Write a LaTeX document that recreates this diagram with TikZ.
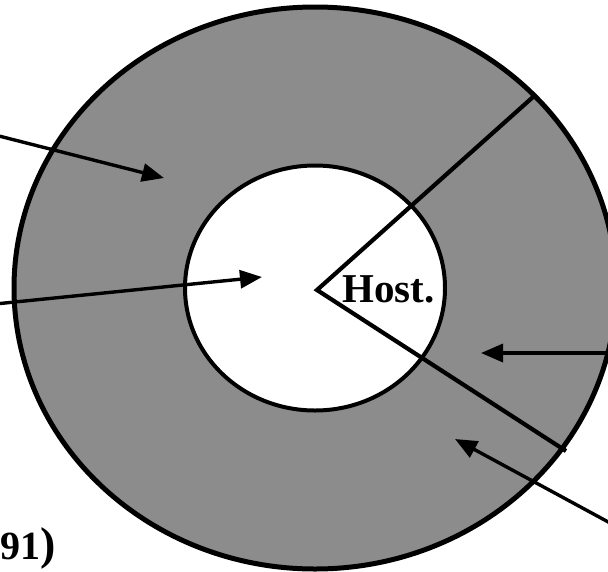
\documentclass[tikz,border=0pt]{standalone}
\usepackage{fontspec}
\setmainfont{Liberation Serif}
\usetikzlibrary{arrows.meta}
\definecolor{ringgray}{RGB}{140,140,140}
\tikzset{
  ring/.style={draw=black, line width=5pt},
  hole/.style={draw=black, line width=4pt, fill=white},
  divider/.style={draw=black, line width=4.2pt},
  pointer/.style={draw=black, line width=3.4pt, -{Triangle[length=22pt,width=18pt]}},
}
\begin{document}
\begin{tikzpicture}[x=1pt,y=-1pt]
\useasboundingbox (0,0) rectangle (608,571);
\clip (0,0) rectangle (608,571);
\coordinate (c) at (315,288);
\coordinate (v) at (317,290);
\fill[ringgray] (c) ellipse [x radius=301pt, y radius=281pt];
\draw[ring] (c) ellipse [x radius=301pt, y radius=281pt];
\draw[hole] (c) ellipse [x radius=130pt, y radius=122.5pt];
\coordinate (d1) at (533,97);
\coordinate (d2) at (566,451);
\draw[divider, line join=miter] (d1) -- (v) -- (d2);
\node[font=\bfseries\fontsize{41}{41}\selectfont, inner sep=0pt, anchor=base west] (host) at (342,302) {Host.};
\coordinate (a1s) at (-5,135);
\coordinate (a1e) at (164,178);
\coordinate (a2s) at (-5,304);
\coordinate (a2e) at (262,277);
\coordinate (a3s) at (612,353);
\coordinate (a3e) at (481,353);
\coordinate (a4s) at (612,524);
\coordinate (a4e) at (455,439);
\draw[pointer] (a1s) -- (a1e);
\draw[pointer] (a2s) -- (a2e);
\draw[pointer] (a3s) -- (a3e);
\draw[pointer] (a4s) -- (a4e);
\node[inner sep=0pt, anchor=base west] (lbl) at (0,559) {\bfseries\fontsize{40}{40}\selectfont 91\fontsize{46}{46}\selectfont)};
\end{tikzpicture}
\end{document}
